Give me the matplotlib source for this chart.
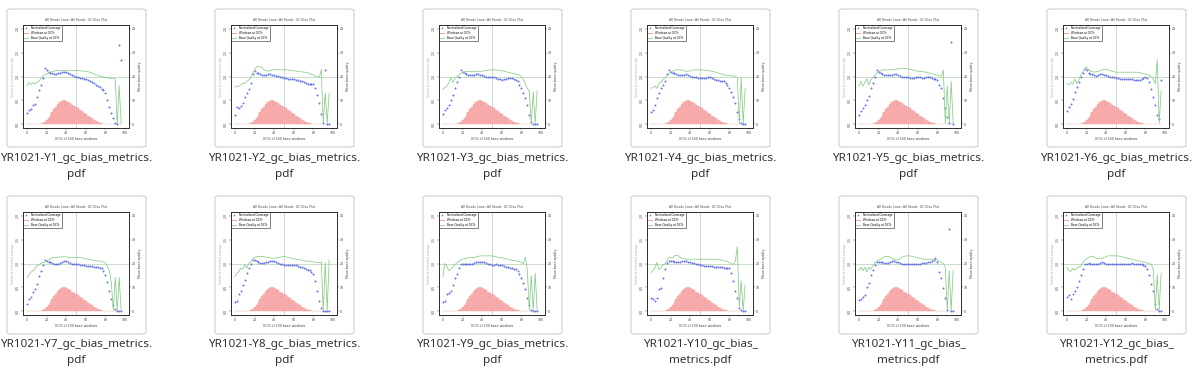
import matplotlib.pyplot as plt
from matplotlib.patches import FancyBboxPatch

# GC% positions (every 2%)
gc = list(range(0, 97, 2))

# windows at GC% (scaled to coverage axis), same for all samples
windows = [0.004, 0.004, 0.004, 0.004, 0.005, 0.006, 0.008, 0.01, 0.02, 0.04,
           0.08, 0.13, 0.19, 0.25, 0.31, 0.37, 0.42, 0.46, 0.49, 0.5,
           0.48, 0.46, 0.44, 0.41, 0.38, 0.355, 0.33, 0.3, 0.27, 0.24,
           0.21, 0.18, 0.15, 0.12, 0.09, 0.065, 0.04, 0.025, 0.015, 0.008,
           0.004, 0.004, 0.003, 0.003, 0.003, 0.002, 0.002, 0.002, 0.002]

# normalized coverage per sample
cov_y1 = [0.23, 0.3, 0.32, 0.4, 0.42, 0.58, 0.72, 0.82, 0.96, 1.18, 1.14, 1.1, 1.08, 1.07, 1.06, 1.06, 1.07, 1.08, 1.09, 1.1,
          1.1, 1.08, 1.06, 1.04, 1.02, 1.0, 0.98, 0.97, 0.96, 0.95, 0.95, 0.93, 0.91, 0.89, 0.86, 0.83, 0.8, 0.77, 0.74, 0.71,
          0.65, 0.5, 0.37, 0.23, 0.12, 0.03, 0.0, 1.67, 1.35]
cov_y2 = [0.2, 0.35, 0.33, 0.38, 0.45, 0.58, 0.66, 0.74, 0.86, 1.05, 1.12, 1.08, 1.07, 1.06, 1.04, 1.03, 1.04, 1.05, 1.05, 1.04,
          1.03, 1.02, 1.01, 1.0, 0.98, 0.97, 0.96, 0.95, 0.95, 0.95, 0.95, 0.93, 0.92, 0.91, 0.9, 0.88, 0.86, 0.85, 0.84, 0.85,
          0.84, 0.76, 0.62, 0.44, 0.22, 0.03, 1.14, 0.01, 0.0]
cov_y3 = [0.22, 0.3, 0.33, 0.4, 0.5, 0.62, 0.75, 0.88, 1.0, 1.14, 1.1, 1.07, 1.05, 1.04, 1.03, 1.03, 1.04, 1.05, 1.05, 1.04,
          1.03, 1.02, 1.0, 0.99, 0.99, 0.99, 0.98, 0.97, 0.95, 0.94, 0.93, 0.94, 0.95, 0.96, 0.96, 0.96, 0.95, 0.93, 0.9, 0.82,
          0.75, 0.66, 0.55, 0.4, 0.2, 0.05, 0.01, 0.0, 0.0]
cov_y4 = [0.25, 0.3, 0.4, 0.55, 0.65, 0.75, 0.82, 0.9, 1.06, 1.13, 1.1, 1.08, 1.07, 1.06, 1.04, 1.03, 1.03, 1.04, 1.05, 1.04,
          1.02, 1.0, 0.99, 0.98, 0.97, 0.96, 0.96, 0.96, 0.97, 0.98, 0.98, 0.96, 0.94, 0.93, 0.92, 0.91, 0.91, 0.9, 0.87, 0.83,
          0.75, 0.68, 0.58, 0.44, 0.25, 0.1, 0.02, 0.0, 0.0]
cov_y5 = [0.2, 0.28, 0.34, 0.4, 0.5, 0.6, 0.75, 0.87, 1.0, 1.14, 1.1, 1.07, 1.05, 1.04, 1.03, 1.03, 1.03, 1.04, 1.05, 1.05,
          1.04, 1.02, 1.0, 0.99, 0.98, 0.98, 0.97, 0.96, 0.96, 0.98, 0.99, 0.98, 0.96, 0.96, 0.98, 0.99, 0.98, 0.96, 0.95, 0.94,
          0.93, 0.83, 0.75, 0.55, 0.34, 0.16, 0.02, 1.73, 0.0]
cov_y6 = [0.28, 0.37, 0.43, 0.53, 0.67, 0.78, 0.89, 0.98, 1.08, 1.15, 1.13, 1.08, 1.06, 1.05, 1.03, 1.02, 1.03, 1.05, 1.05, 1.04,
          1.03, 1.01, 1.0, 0.99, 0.98, 0.97, 0.96, 0.95, 0.95, 0.95, 0.95, 0.95, 0.95, 0.94, 0.93, 0.92, 0.92, 0.93, 0.94, 0.96,
          0.98, 0.96, 0.88, 0.73, 0.56, 0.4, 0.2, 0.1, 0.92]
cov_y7 = [0.15, 0.25, 0.3, 0.4, 0.47, 0.57, 0.74, 0.85, 0.96, 1.07, 1.05, 1.04, 1.03, 1.02, 1.0, 0.99, 1.0, 1.01, 1.03, 1.05,
          1.05, 1.04, 1.02, 1.0, 0.99, 0.99, 0.98, 0.97, 0.97, 0.96, 0.95, 0.95, 0.94, 0.94, 0.93, 0.93, 0.92, 0.91, 0.9, 0.85,
          0.75, 0.61, 0.43, 0.26, 0.12, 0.05, 0.01, 0.0, 0.0]
cov_y8 = [0.2, 0.21, 0.35, 0.42, 0.55, 0.66, 0.8, 0.9, 1.0, 1.07, 1.07, 1.05, 1.03, 1.02, 1.02, 1.02, 1.03, 1.04, 1.05, 1.05,
          1.05, 1.03, 1.01, 0.99, 0.98, 0.97, 0.96, 0.96, 0.96, 0.97, 0.97, 0.96, 0.94, 0.93, 0.92, 0.9, 0.89, 0.87, 0.86, 0.82,
          0.77, 0.63, 0.42, 0.21, 0.07, 0.01, 0.0, 0.0, 0.0]
cov_y9 = [0.2, 0.21, 0.35, 0.38, 0.43, 0.55, 0.69, 0.79, 0.9, 1.0, 1.0, 1.0, 0.99, 0.99, 1.0, 1.0, 1.02, 1.03, 1.04, 1.04,
          1.04, 1.03, 1.01, 1.0, 0.98, 0.97, 0.97, 0.98, 0.97, 0.96, 0.96, 0.95, 0.93, 0.92, 0.91, 0.9, 0.89, 0.88, 0.85, 0.77,
          0.7, 0.6, 0.46, 0.28, 0.14, 0.03, 0.0, 0.0, 0.0]
cov_y10 = [0.28, 0.25, 0.21, 0.28, 0.46, 0.49, 0.7, 0.88, 1.02, 1.05, 1.05, 1.05, 1.03, 1.03, 1.04, 1.04, 1.05, 1.05, 1.05, 1.04,
           1.03, 1.02, 1.01, 1.0, 0.99, 0.97, 0.96, 0.95, 0.95, 0.95, 0.95, 0.94, 0.93, 0.92, 0.92, 0.92, 0.92, 0.91, 0.91, 0.9,
           0.9, 0.8, 0.63, 0.42, 0.28, 0.07, 0.02, 0.0, 0.0]
cov_y11 = [0.24, 0.25, 0.3, 0.33, 0.5, 0.6, 0.76, 0.87, 0.97, 1.03, 1.03, 1.03, 1.03, 1.02, 1.01, 1.01, 1.03, 1.05, 1.05, 1.04,
           1.03, 1.01, 1.0, 0.99, 0.98, 0.98, 0.99, 1.0, 1.0, 0.99, 0.99, 1.0, 1.01, 1.01, 1.02, 1.03, 1.04, 1.05, 1.08, 1.12,
           1.03, 0.83, 0.69, 0.48, 0.27, 0.03, 1.72, 0.0, 0.0]
cov_y12 = [0.3, 0.33, 0.26, 0.36, 0.43, 0.5, 0.64, 0.75, 0.89, 0.98, 1.0, 1.01, 1.0, 1.0, 1.0, 0.99, 1.0, 1.02, 1.03, 1.02,
           1.0, 0.99, 0.98, 0.98, 0.98, 0.98, 0.99, 1.0, 1.0, 0.99, 0.99, 1.0, 1.0, 1.01, 1.0, 0.99, 0.99, 0.98, 0.98, 0.97,
           0.94, 0.89, 0.75, 0.57, 0.43, 0.16, 0.05, 0.0, 0.0]

# mean base quality per sample
qual_y1 = [16, 17.5, 16.5, 17.5, 16.8, 17.5, 18, 19, 20, 20.8, 21, 21.5, 21.8, 22, 22.3, 22.5, 22.5, 22.6, 22.5, 22.5,
           22.5, 22.6, 22.6, 22.5, 22.6, 22.6, 22.5, 22.4, 22.3, 22.3, 22.2, 22, 21.8, 21.5, 21.2, 20.8, 20.5, 20.2, 20, 19.8,
           19.6, 19.5, 19.3, 19.2, 19.3, 19, 0.3, 16, 0.3]
qual_y2 = [15.5, 16, 15.8, 16.5, 17.2, 17, 18, 18.5, 19.5, 21.4, 22.8, 24, 24.2, 24, 23.5, 22.8, 22.5, 22.2, 22.5, 22.8,
           23, 22.8, 22.8, 22.8, 22.8, 22.8, 22.8, 22.8, 22.6, 22.6, 22.4, 22.2, 22, 22, 22, 21.8, 21.8, 21.6, 21.2, 20.8,
           20.6, 20.2, 20, 19.6, 23, 0.5, 13, 0.5, 13]
qual_y3 = [14.5, 15.5, 15.8, 17.5, 19.5, 17.5, 19, 20, 20.5, 21.3, 21.6, 22, 22, 22.2, 22.2, 22, 22, 22.2, 22.2, 22,
           22.2, 22.4, 22.5, 22.6, 22.8, 22.8, 22.8, 22.8, 22.6, 22.5, 22.4, 22.2, 22, 21.8, 21.6, 21.4, 21.2, 21, 20.8, 20.6,
           19.8, 18.8, 17, 15, 14, 0.3, 13.5, 0.3, 14]
qual_y4 = [15, 15.5, 16, 15, 17, 17.5, 18.5, 19.3, 20, 21.3, 21.8, 22.3, 22.5, 22.8, 22.8, 22.8, 22.6, 22.4, 22.2, 22.2,
           22.4, 22.6, 22.8, 22.8, 22.8, 22.8, 22.8, 22.6, 22.5, 22.5, 22.4, 22.2, 22, 21.8, 21.5, 21.3, 21, 20.8, 20.6, 20.4,
           20.3, 20.3, 20.2, 20, 19.6, 0.3, 19.5, 0.3, 15]
qual_y5 = [16, 18, 16, 17.5, 19, 16.5, 18.5, 19.5, 20.5, 21.4, 22, 22.4, 22.8, 22.8, 22.8, 22.8, 22.8, 22.8, 23, 23,
           23.2, 23.3, 23.4, 23.4, 23.3, 23.2, 23, 22.8, 22.6, 22.4, 22.2, 22.2, 22, 22, 21.8, 21.6, 21.4, 21.2, 21, 20.8,
           20.6, 20.3, 20, 22.8, 0.3, 16, 0.3, 18, 0.3]
qual_y6 = [17, 16.5, 17.5, 16.8, 19, 17, 18.5, 20.5, 21.8, 23.3, 24, 23, 22.2, 22, 21.8, 22, 22.2, 22.4, 22.8, 23,
           23, 22.8, 22.4, 22.2, 22, 21.8, 21.8, 21.8, 21.8, 21.8, 21.8, 21.8, 21.8, 21.8, 21.8, 21.8, 21.8, 21.6, 21.4, 21.2,
           21, 20.8, 20.4, 19.8, 19, 17, 27, 0.3, 14]
qual_y7 = [14.2, 15, 16.3, 17, 17.5, 19, 19.5, 20, 20.4, 20.5, 21, 21.6, 22, 22.4, 22.6, 22.6, 22.6, 22.8, 22.8, 22.8,
           22.8, 22.6, 22.4, 22.4, 22.4, 22.6, 22.6, 22.6, 22.4, 22.2, 22, 21.8, 21.6, 21.5, 21.3, 21.2, 21.1, 21, 21, 20.6,
           20.3, 18.8, 17, 12, 0.3, 14.2, 0.3, 14.2, 0.3]
qual_y8 = [14.5, 16, 16.6, 18, 17.5, 19.5, 18, 20, 20.5, 22, 22.5, 22.8, 23, 23, 23, 22.8, 22.6, 22.4, 22.4, 22.2,
           22.2, 22.4, 22.4, 22.6, 22.8, 23, 22.8, 22.6, 22.4, 22.2, 22, 21.8, 21.8, 21.6, 21.4, 21.2, 21, 21, 21, 20.8,
           20.6, 20.6, 20.4, 20.4, 20.6, 0.3, 20.5, 0.3, 21.5]
qual_y9 = [14.5, 20, 19, 17, 17.5, 18.6, 19.3, 20.3, 20.8, 21.5, 21.8, 22, 22.2, 22.4, 22.5, 22.5, 22.6, 22.8, 23, 23.2,
           23.2, 23.2, 23.2, 23.2, 23.2, 23.2, 23, 22.8, 22.6, 22.4, 22.4, 22.2, 22, 21.8, 21.6, 21.4, 21.2, 21.2, 21, 20.8,
           20.4, 19.8, 22.6, 17, 0.3, 15, 0.3, 16, 0.3]
qual_y10 = [16.2, 17, 18, 20.4, 17.5, 18, 19.3, 19.8, 21, 22.4, 22.5, 22.4, 23.2, 23.4, 23.2, 22.5, 22.2, 22, 21.8, 21.8,
            21.8, 21.8, 21.8, 21.8, 21.8, 21.8, 21.8, 21.8, 21.8, 21.8, 21.8, 21.8, 21.8, 21.8, 21.8, 21.6, 21.4, 21.2, 21, 20.8,
            20.4, 20, 19.6, 21, 27, 2, 12.6, 0.3, 11]
qual_y11 = [17, 18.5, 17, 18.5, 16.5, 18.5, 17.5, 19, 20, 21, 21.4, 21.8, 22.3, 22.8, 23, 23, 22.6, 22, 21.6, 21.6,
            21.6, 22, 22.6, 23, 23.2, 23.2, 23.2, 23, 22.8, 22.6, 22.4, 22.2, 22, 21.8, 21.8, 21.8, 21.8, 21.6, 21.6, 21.6,
            21.4, 21, 20.5, 20, 18.5, 0.3, 17, 0.3, 17]
qual_y12 = [18.5, 17, 16.7, 18, 17.2, 18, 18.4, 19, 20.3, 21.3, 22, 22.5, 23, 23, 22.6, 22.2, 22, 22, 22.2, 22.6,
            23, 23.2, 23.2, 23.2, 23.2, 23.2, 23.2, 23, 22.8, 22.6, 22.4, 22.2, 22, 21.8, 21.6, 21.4, 21.2, 21, 20.8, 20.6,
            20.4, 20.2, 20, 19.5, 17.6, 0.3, 15.5, 0.3, 16]

covs = [cov_y1, cov_y2, cov_y3, cov_y4, cov_y5, cov_y6,
        cov_y7, cov_y8, cov_y9, cov_y10, cov_y11, cov_y12]
quals = [qual_y1, qual_y2, qual_y3, qual_y4, qual_y5, qual_y6,
         qual_y7, qual_y8, qual_y9, qual_y10, qual_y11, qual_y12]

# file names shown under the thumbnails (as wrapped by the file browser)
names = [("YR1021-Y1_gc_bias_metrics.", "pdf"), ("YR1021-Y2_gc_bias_metrics.", "pdf"),
         ("YR1021-Y3_gc_bias_metrics.", "pdf"), ("YR1021-Y4_gc_bias_metrics.", "pdf"),
         ("YR1021-Y5_gc_bias_metrics.", "pdf"), ("YR1021-Y6_gc_bias_metrics.", "pdf"),
         ("YR1021-Y7_gc_bias_metrics.", "pdf"), ("YR1021-Y8_gc_bias_metrics.", "pdf"),
         ("YR1021-Y9_gc_bias_metrics.", "pdf"), ("YR1021-Y10_gc_bias_", "metrics.pdf"),
         ("YR1021-Y11_gc_bias_", "metrics.pdf"), ("YR1021-Y12_gc_bias_", "metrics.pdf")]

W, H = 1195, 379
fig = plt.figure(figsize=(W / 100, H / 100), dpi=100)
fig.patch.set_facecolor("white")

def fx(px):
    return px / W

def fy(py):
    return 1 - py / H

tiny = 2.3
for i in range(12):
    row, col = divmod(i, 6)
    cx = 7 + 208 * col          # card left (px)
    cy = 9 + 187 * row          # card top (px)
    cw, ch = 139, 138

    card = FancyBboxPatch((fx(cx), fy(cy + ch)), fx(cw), ch / H,
                          boxstyle="round,pad=0,rounding_size=0.004",
                          transform=fig.transFigure, facecolor="white",
                          edgecolor="#d4d4d4", linewidth=0.9, zorder=-5)
    fig.patches.append(card)

    ax = fig.add_axes([fx(cx + 16), fy(cy + 119), fx(106), 103 / H])
    ax.set_xlim(-4, 104)
    ax.set_ylim(-0.08, 2.08)
    ax.bar(gc, windows, width=2.0, color="#f9b3b3", edgecolor="#f29595",
           linewidth=0.25, zorder=1)
    ax.axhline(1.0, color="#b5cdb5", lw=0.5, zorder=0)
    ax.axvline(50, color="#c4c4c4", lw=0.5, zorder=0)
    ax.plot(gc, covs[i], linestyle="none", marker="o", ms=1.05, mew=0.3,
            color="#4a5ce8", alpha=0.8, zorder=3, label="Normalized Coverage")
    ax.plot([], [], color="#f28a8a", lw=0.6, label="Windows at GC%")

    ax2 = ax.twinx()
    ax2.set_ylim(-1.6, 41.6)
    ax2.plot(gc, quals[i], color="#86cc86", lw=0.55, zorder=2)
    ax.plot([], [], color="#86cc86", lw=0.6, label="Base Quality at GC%")

    ax.set_xticks([0, 20, 40, 60, 80, 100])
    ax.set_yticks([0, 0.5, 1.0, 1.5, 2.0])
    ax.set_yticklabels(["0.0", "0.5", "1.0", "1.5", "2.0"], rotation=90, va="center")
    ax2.set_yticks([0, 10, 20, 30, 40])
    for a in (ax, ax2):
        a.tick_params(labelsize=tiny, length=1.2, width=0.3, pad=1,
                      colors="#444444")
        for sp in a.spines.values():
            sp.set_linewidth(0.7)
            sp.set_color("#333333")
    ax.set_xlabel("GC% of 100 base windows", fontsize=tiny, labelpad=1.5, color="#444444")
    ax.set_ylabel("Fraction of normalized coverage", fontsize=tiny * 0.8, labelpad=1,
                  color="#aaaaaa")
    ax2.set_ylabel("Mean base quality", fontsize=tiny, labelpad=1.5, color="#444444")
    ax.set_title("All Reads Lane: All Reads  GC Bias Plot", fontsize=tiny,
                 pad=3, color="#555555")
    leg = ax.legend(loc="upper left", fontsize=tiny * 0.85, frameon=True,
                    fancybox=False, borderpad=0.5, handlelength=1.5,
                    labelspacing=0.25, borderaxespad=0, markerscale=0.8)
    leg.get_frame().set_edgecolor("#222222")
    leg.get_frame().set_linewidth(0.5)
    leg.set_zorder(5)

    # file name under the card
    tx = cx + cw / 2
    fig.text(fx(tx), fy(cy + 149), names[i][0], fontsize=8.4, family="Noto Sans",
             color="#2e3436", ha="center", va="center")
    fig.text(fx(tx), fy(cy + 165), names[i][1], fontsize=8.4, family="Noto Sans",
             color="#2e3436", ha="center", va="center")

fig.savefig("out.png", dpi=100)
